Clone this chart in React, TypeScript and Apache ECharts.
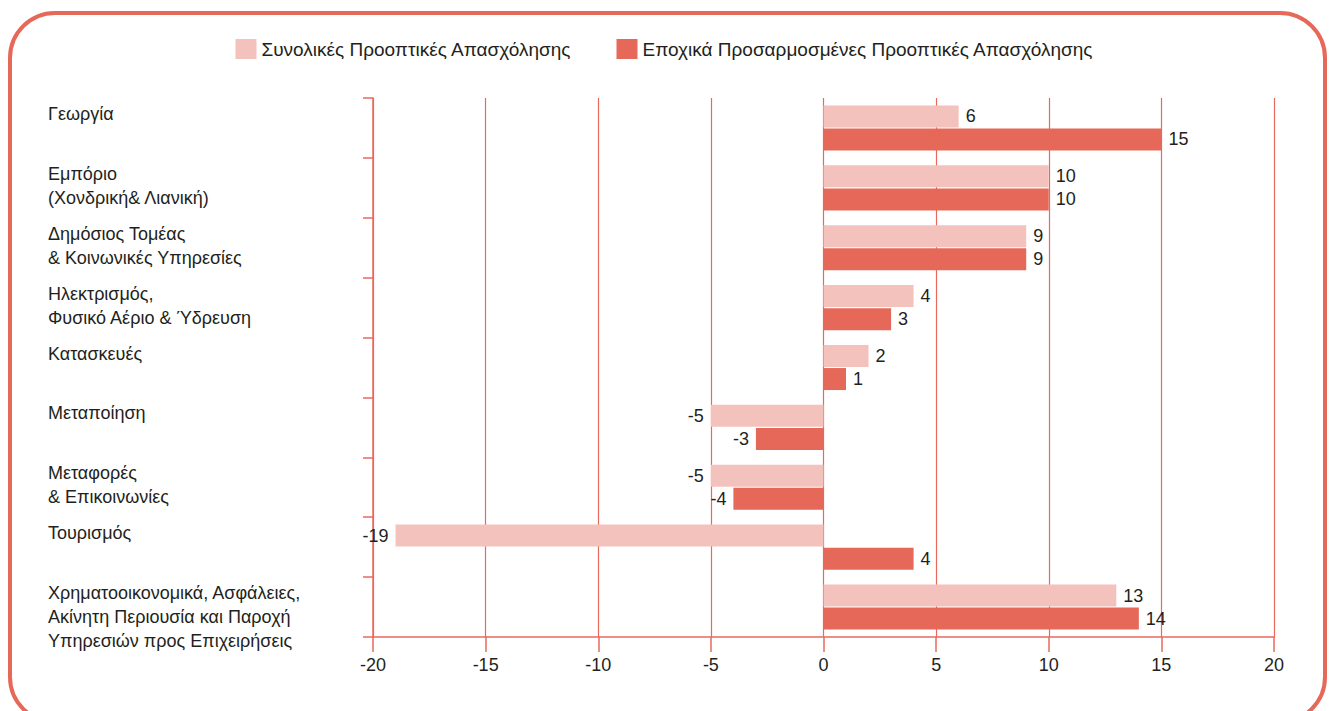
import React, { useEffect, useRef } from "react";
import * as echarts from "echarts";

const categories = [
  "Γεωργία",
  "Εμπόριο\n(Χονδρική& Λιανική)",
  "Δημόσιος Τομέας\n& Κοινωνικές Υπηρεσίες",
  "Ηλεκτρισμός,\nΦυσικό Αέριο & Ύδρευση",
  "Κατασκευές",
  "Μεταποίηση",
  "Μεταφορές\n& Επικοινωνίες",
  "Τουρισμός",
  "Χρηματοοικονομικά, Ασφάλειες,\nΑκίνητη Περιουσία και Παροχή\nΥπηρεσιών προς Επιχειρήσεις",
];
const seriesNames = [
  "Συνολικές Προοπτικές Απασχόλησης",
  "Εποχικά Προσαρμοσμένες Προοπτικές Απασχόλησης",
];
const totalOutlook = [6, 10, 9, 4, 2, -5, -5, -19, 13];
const seasonalOutlook = [15, 10, 9, 3, 1, -3, -4, 4, 14];
const xMin = -20;
const xMax = 20;
const xStep = 5;

const LIGHT = "#F4C2BC";
const DARK = "#E66858";
const LINE = "#E8695B";
const TEXT = "#231F20";
const FONT = "Liberation Sans";

function toData(values: number[]) {
  return values.map((v) => ({
    value: v,
    label: { position: v < 0 ? "left" : "right" },
  }));
}

export default function App() {
  const ref = useRef<HTMLDivElement>(null);
  useEffect(() => {
    if (!ref.current) return;
    const chart = echarts.init(ref.current, null, { renderer: "svg" });
    const barLabel = {
      show: true,
      distance: 7,
      color: TEXT,
      fontSize: 18,
      fontFamily: FONT,
    };
    chart.setOption({
      animation: false,
      textStyle: { fontFamily: FONT },
      graphic: [
        {
          type: "rect",
          z: -10,
          shape: { x: 10, y: 13, width: 1315, height: 709, r: 45 },
          style: { fill: "none", stroke: DARK, lineWidth: 4 },
        },
      ],
      legend: {
        top: 34,
        left: "center",
        itemWidth: 21,
        itemHeight: 20,
        itemGap: 45,
        icon: "rect",
        textStyle: { color: TEXT, fontSize: 19, fontFamily: FONT },
        data: seriesNames,
      },
      grid: { left: 373, right: 55, top: 98, bottom: 74, containLabel: false },
      xAxis: {
        type: "value",
        min: xMin,
        max: xMax,
        interval: xStep,
        axisLine: { show: true, lineStyle: { color: LINE, width: 1.5 } },
        axisTick: { show: true, length: 15, lineStyle: { color: LINE, width: 1.5 } },
        splitLine: { show: true, lineStyle: { color: LINE, width: 1.2 } },
        axisLabel: { color: TEXT, fontSize: 18, fontFamily: FONT, margin: 19 },
      },
      yAxis: {
        type: "category",
        inverse: true,
        data: categories,
        axisLine: { show: true, onZero: false, lineStyle: { color: LINE, width: 1.5 } },
        axisTick: { show: true, length: 10, lineStyle: { color: LINE, width: 1.5 } },
        axisLabel: {
          interval: 0,
          align: "left",
          verticalAlign: "top",
          margin: 325,
          color: TEXT,
          fontSize: 18,
          fontFamily: FONT,
          lineHeight: 24,
          padding: [-26, 0, 0, 0],
        },
      },
      series: [
        {
          name: seriesNames[0],
          type: "bar",
          data: toData(totalOutlook),
          barWidth: 22,
          barGap: "5%",
          itemStyle: { color: LIGHT },
          label: barLabel,
        },
        {
          name: seriesNames[1],
          type: "bar",
          data: toData(seasonalOutlook),
          barWidth: 22,
          barGap: "5%",
          itemStyle: { color: DARK },
          label: barLabel,
        },
      ],
    });
    return () => chart.dispose();
  }, []);
  return (
    <div
      ref={ref}
      style={{ position: "fixed", left: 0, top: 0, width: 1329, height: 711, background: "#fff" }}
    />
  );
}
